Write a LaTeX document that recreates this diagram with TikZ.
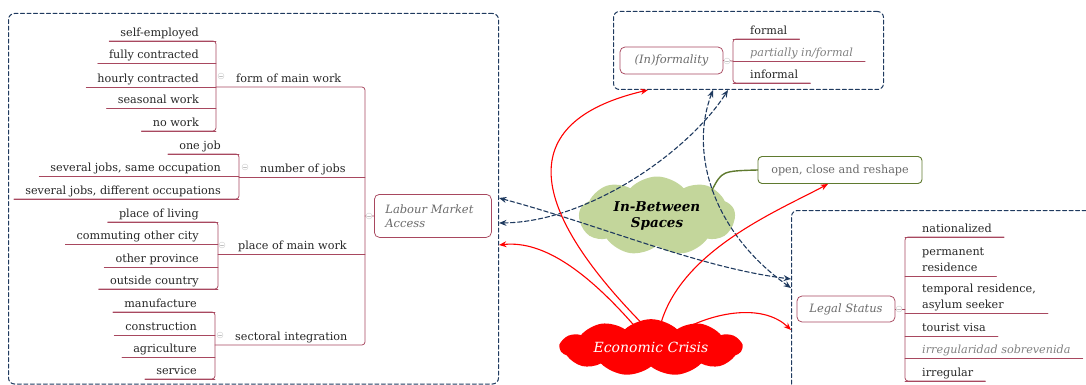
\documentclass[tikz,border=0pt]{standalone}
\usepackage{fontspec}
\setmainfont{DejaVu Serif}
\usetikzlibrary{arrows.meta,calc,positioning,shapes.symbols}

\definecolor{framec}{HTML}{1F3A5F}
\definecolor{branchc}{HTML}{A8485F}
\definecolor{labelc}{HTML}{6A6A6A}
\definecolor{greenc}{HTML}{5F7A2F}
\definecolor{cloudg}{HTML}{C3D69B}

\tikzset{
  leaf/.style={inner xsep=0pt,inner ysep=2pt,text height=8.5pt,text depth=2.5pt,
    font=\fontsize{11.2}{15.5}\selectfont,text=black!85},
  branch/.style={draw=branchc,line width=0.75pt},
  topicbox/.style={draw=branchc,rounded corners=5pt,line width=0.75pt,
    font=\fontsize{11.5}{14}\selectfont\itshape,text=labelc},
  boundary/.style={draw=framec,dash pattern=on 4pt off 2.5pt,rounded corners=6pt,line width=1pt},
  relation/.style={framec,dash pattern=on 4.5pt off 2.5pt,line width=1.1pt,<->},
  crisis/.style={red,line width=1.1pt,->},
  fold/.style={circle,draw=gray!40,fill=white,inner sep=0pt,minimum size=6pt,
    path picture={\draw[gray!50] ([xshift=-1.6pt]path picture bounding box.center)
      -- ([xshift=1.6pt]path picture bounding box.center);}},
}

\begin{document}
\begin{tikzpicture}[x=1pt,y=-1pt,>={Stealth[length=7.5pt,width=6pt,inset=2.5pt]},line join=round,line cap=round]
\useasboundingbox (0,0) rectangle (1086,385);

% boundaries
\node[boundary,anchor=north west,minimum width=490pt,minimum height=370.5pt] (labbox) at (8,13) {};
\node[boundary,anchor=north west,minimum width=270pt,minimum height=78pt] (infbox) at (613,11) {};
\node[boundary,anchor=north west,minimum width=320pt,minimum height=200pt] (legbox) at (791,210) {};

% labour market access
\node[topicbox,anchor=north west,inner xsep=11pt,text width=95pt,minimum height=43pt,align=left] (lma) at (374,194) {Labour Market\\Access};
\coordinate (trunk) at (365,216);
\coordinate (fbr) at (216,0);
\coordinate (nbr) at (239,0);
\coordinate (pbr) at (218,0);
\coordinate (sbr) at (215,0);

\node[leaf,anchor=south west] (form) at (236,87) {form of main work};
\node[leaf,anchor=south west] (jobs) at (260,177) {number of jobs};
\node[leaf,anchor=south west] (place) at (238,254) {place of main work};
\node[leaf,anchor=south west] (sect) at (235,345) {sectoral integration};

\foreach \t/\y [count=\i] in {self-employed/41,fully contracted/63,hourly contracted/87,seasonal work/108,no work/131}{
  \node[leaf,anchor=south east] (form\i) at (199,\y) {\t};
  \draw[branch] ([xshift=-11pt]form\i.south west) -- (form\i.south -| fbr);
}
\draw[branch,rounded corners=3pt] ([xshift=-11pt]form1.south west) -- (form1.south -| fbr) -- (form5.south -| fbr) -- ([xshift=-11pt]form5.south west);

\foreach \t/\y [count=\i] in {one job/154,{several jobs, same occupation}/176,{several jobs, different occupations}/199}{
  \node[leaf,anchor=south east] (jobs\i) at (221,\y) {\t};
  \draw[branch] ([xshift=-11pt]jobs\i.south west) -- (jobs\i.south -| nbr);
}
\draw[branch,rounded corners=3pt] ([xshift=-11pt]jobs1.south west) -- (jobs1.south -| nbr) -- (jobs3.south -| nbr) -- ([xshift=-11pt]jobs3.south west);

\foreach \t/\y [count=\i] in {place of living/222,commuting other city/244,other province/267,outside country/289}{
  \node[leaf,anchor=south east] (place\i) at (199,\y) {\t};
  \draw[branch] ([xshift=-11pt]place\i.south west) -- (place\i.south -| pbr);
}
\draw[branch,rounded corners=3pt] ([xshift=-11pt]place1.south west) -- (place1.south -| pbr) -- (place4.south -| pbr) -- ([xshift=-11pt]place4.south west);

\foreach \t/\y [count=\i] in {manufacture/312,construction/335,agriculture/357,service/379}{
  \node[leaf,anchor=south east] (sect\i) at (197,\y) {\t};
  \draw[branch] ([xshift=-11pt]sect\i.south west) -- (sect\i.south -| sbr);
}
\draw[branch,rounded corners=3pt] ([xshift=-11pt]sect1.south west) -- (sect1.south -| sbr) -- (sect4.south -| sbr) -- ([xshift=-11pt]sect4.south west);

\draw[branch,rounded corners=3pt] (form.south -| fbr) -- (form.south -| trunk) -- (sect.south -| trunk) -- (sect.south -| sbr);
\draw[branch] (jobs.south -| nbr) -- (jobs.south -| trunk);
\draw[branch] (place.south -| pbr) -- (place.south -| trunk);
\draw[branch] (trunk) -- (lma.west);
\node[fold] (fo1) at (221,76) {};
\node[fold] (fo2) at (245,167) {};
\node[fold] (fo3) at (222,245) {};
\node[fold] (fo4) at (220,335) {};
\node[fold] (fo5) at (369,216) {};

% (in)formality
\node[topicbox,minimum width=103pt,minimum height=27pt] (inf) at (671.5,60.5) {(In)formality};
\coordinate (ibr) at (733,61);
\foreach \t/\y/\c/\f [count=\i] in {formal/39/black!85/\upshape,{partially in/formal}/61/gray/\itshape,informal/83/black!85/\upshape}{
  \node[leaf,anchor=south west,text=\c] (inf\i) at (750,\y) {\f\t};
  \draw[branch] (inf\i.south -| ibr) -- ([xshift=12pt]inf\i.south east);
}
\draw[branch,rounded corners=3pt] ([xshift=12pt]inf1.south east) -- (inf1.south -| ibr) -- (inf3.south -| ibr) -- ([xshift=12pt]inf3.south east);
\draw[branch] (inf.east) -- (ibr);
\node[fold] (fo6) at (727,61) {};

% legal status
\node[topicbox,minimum width=98pt,minimum height=26pt] (leg) at (846,309) {Legal Status};
\coordinate (lbr) at (905,309);
\foreach \t/\y/\c/\f [count=\i] in {nationalized/237/black!85/\upshape,{permanent\\residence}/276/black!85/\upshape,{temporal residence,\\asylum seeker}/313/black!85/\upshape,tourist visa/336/black!85/\upshape,irregularidad sobrevenida/358/gray/\itshape,irregular/381/black!85/\upshape}{
  \node[leaf,anchor=south west,align=left,text=\c] (leg\i) at (922,\y) {\f\t};
  \draw[branch] (leg\i.south -| lbr) -- ([xshift=12pt]leg\i.south east);
}
\draw[branch,rounded corners=3pt] ([xshift=12pt]leg1.south east) -- (leg1.south -| lbr) -- (leg6.south -| lbr) -- ([xshift=12pt]leg6.south east);
\draw[branch] (leg.east) -- (lbr);
\node[fold] (fo7) at (899,309) {};

% clouds
\node[cloud,cloud puffs=9,cloud puff arc=95,aspect=1.9,fill=cloudg,minimum width=156pt,minimum height=76pt,inner sep=0pt,align=center,font=\fontsize{13.5}{16}\selectfont\bfseries\itshape] (ibs) at (657,216) {In-Between\\Spaces};
\node[cloud,cloud puffs=11,cloud puff arc=85,aspect=4,fill=red,minimum width=182pt,minimum height=45pt,inner sep=0pt,text=white,font=\fontsize{14}{16}\selectfont\itshape] (eco) at (651,347.5) {Economic Crisis};
\node[draw=greenc,rounded corners=4pt,line width=0.9pt,minimum width=164pt,minimum height=27pt,text=labelc,font=\fontsize{11.2}{13}\selectfont] (ocr) at (840,170) {open, close and reshape};
\draw[greenc,line width=1.4pt] ($(ibs.center)+(55,-26)$) .. controls (722,171) .. (ocr.west);

% relations
\draw[relation] ($(labbox.north east)+(0,185)$) .. controls (600,225) and (700,268) .. ($(legbox.north west)+(0,69)$);
\draw[relation] ($(labbox.north east)+(0,210)$) .. controls (590,222) and (690,150) .. ($(infbox.south west)+(115,0)$);
\draw[relation] ($(infbox.south west)+(100,0)$) .. controls (690,150) and (710,230) .. ($(legbox.north west)+(0,78)$);

\draw[crisis] ($(eco)+(-16,-21)$) .. controls (590,275) and (545,240) .. ($(labbox.north east)+(0,232)$);
\draw[crisis] ($(eco)+(-6,-21)$) .. controls (520,200) and (520,120) .. ($(infbox.south west)+(35,0)$);
\draw[crisis] ($(eco)+(9,-21)$) .. controls (680,250) and (780,210) .. ($(ocr.south)+(-12,0)$);
\draw[crisis] ($(eco)+(32,-18)$) .. controls (720,310) and (765,305) .. ($(legbox.north west)+(0,120)$);
\end{tikzpicture}
\end{document}
